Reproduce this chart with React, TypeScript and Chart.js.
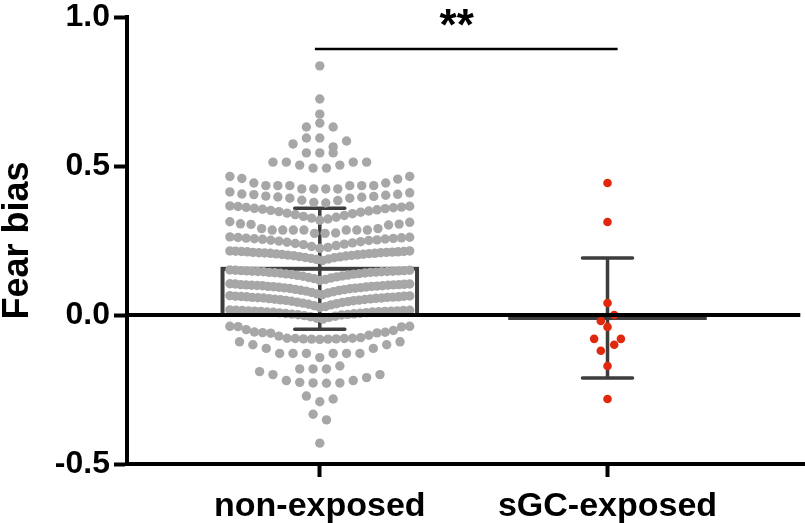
import { useEffect, useRef } from "react"
import { Chart, registerables } from "chart.js"

Chart.register(...registerables)

const categories = ["non-exposed", "sGC-exposed"]
const groupX = [1, 2]
const barMeans = [0.155, -0.01]
const barSD = [0.203, 0.201]
const yTicks = [-0.5, 0, 0.5, 1.0]
const sigLabel = "**"
const sigLevel = 0.893
const sigSpan = [0.983, 2.035]
const sigLabelX = 1.476

// each inner array is one horizontal row of the dot plot, written in the order the dots are placed (centre outwards)
const nonExposed: number[][] = [
  [0.836],
  [0.725],
  [0.674],
  [0.644, 0.631, 0.631],
  [0.594, 0.564, 0.594, 0.584, 0.574],
  [0.544, 0.544, 0.544],
  [0.493, 0.493, 0.503, 0.503, 0.513, 0.513, 0.513, 0.513],
  [0.423, 0.423, 0.423, 0.423, 0.434, 0.434, 0.434, 0.434, 0.434, 0.434, 0.443, 0.443, 0.456, 0.458, 0.465, 0.465],
  [0.376, 0.378, 0.384, 0.385, 0.392, 0.392, 0.395, 0.396, 0.398, 0.399, 0.402, 0.404, 0.405, 0.406, 0.41, 0.413],
  [0.318, 0.322, 0.325, 0.328, 0.331, 0.334, 0.337, 0.34, 0.342, 0.345, 0.347, 0.349, 0.351, 0.353, 0.355, 0.357, 0.358, 0.36, 0.361, 0.362, 0.364, 0.365, 0.366],
  [0.274, 0.274, 0.275, 0.285, 0.285, 0.285, 0.285, 0.285, 0.285, 0.285, 0.29, 0.29, 0.302, 0.304, 0.305, 0.306, 0.311, 0.313],
  [0.224, 0.227, 0.23, 0.233, 0.236, 0.238, 0.24, 0.242, 0.244, 0.246, 0.248, 0.25, 0.251, 0.252, 0.254, 0.255, 0.256, 0.257, 0.258, 0.259, 0.26, 0.261, 0.262],
  [0.183, 0.186, 0.188, 0.19, 0.192, 0.193, 0.195, 0.196, 0.198, 0.199, 0.2, 0.201, 0.202, 0.203, 0.204, 0.205, 0.206, 0.207, 0.207, 0.208, 0.209, 0.209, 0.21, 0.21, 0.211, 0.212, 0.212, 0.213, 0.213, 0.214, 0.215, 0.215],
  [0.116, 0.119, 0.122, 0.124, 0.126, 0.128, 0.13, 0.131, 0.133, 0.134, 0.136, 0.137, 0.138, 0.139, 0.14, 0.141, 0.142, 0.143, 0.143, 0.144, 0.145, 0.145, 0.146, 0.146, 0.147, 0.147, 0.148, 0.148, 0.149, 0.149, 0.15, 0.15, 0.151],
  [0.068, 0.071, 0.074, 0.076, 0.078, 0.08, 0.082, 0.083, 0.085, 0.086, 0.088, 0.089, 0.09, 0.091, 0.092, 0.093, 0.094, 0.095, 0.096, 0.096, 0.097, 0.098, 0.098, 0.099, 0.1, 0.1, 0.101, 0.101, 0.102, 0.102, 0.103, 0.104, 0.104, 0.105],
  [0.025, 0.028, 0.031, 0.034, 0.036, 0.038, 0.04, 0.042, 0.043, 0.045, 0.046, 0.048, 0.049, 0.05, 0.051, 0.052, 0.053, 0.054, 0.055, 0.056, 0.057, 0.057, 0.058, 0.059, 0.059, 0.06, 0.061, 0.061, 0.062, 0.063, 0.063, 0.064, 0.065],
  [-0.014, -0.011, -0.008, -0.006, -0.004, -0.002, 0, 0.001, 0.002, 0.003, 0.004, 0.005, 0.006, 0.007, 0.008, 0.009, 0.01, 0.01, 0.011, 0.012, 0.012, 0.013, 0.013, 0.014, 0.014, 0.015, 0.015, 0.016, 0.016, 0.017],
  [-0.082, -0.081, -0.081, -0.08, -0.08, -0.079, -0.079, -0.078, -0.078, -0.076, -0.071, -0.068, -0.061, -0.06, -0.059, -0.058, -0.057, -0.052, -0.049, -0.04, -0.039, -0.038, -0.038],
  [-0.143, -0.129, -0.129, -0.129, -0.129, -0.129, -0.129, -0.112, -0.112, -0.1, -0.1, -0.09, -0.09],
  [-0.181, -0.181, -0.171, -0.181],
  [-0.229, -0.228, -0.228, -0.226, -0.22, -0.22, -0.21, -0.2, -0.2, -0.19],
  [-0.291, -0.282, -0.272],
  [-0.352, -0.333],
  [-0.43],
]

const sgcExposed: number[][] = [
  [0.443],
  [0.312],
  [0.04],
  [0.0, -0.02],
  [-0.04, -0.08, -0.08],
  [-0.1, -0.12],
  [-0.171],
  [-0.282],
]

const dotStep = 0.0465
const rowSpan = 0.625

function swarm(rows: number[][], cx: number) {
  const pts: { x: number; y: number }[] = []
  rows.forEach((row) => {
    const n = row.length
    const s = n > 1 ? Math.min(dotStep, rowSpan / (n - 1)) : dotStep
    row.forEach((v, i) => {
      let slot
      if (n % 2 === 1) {
        slot = i === 0 ? 0 : (i % 2 === 1 ? 1 : -1) * Math.ceil(i / 2)
      } else {
        slot = (i % 2 === 0 ? 1 : -1) * (Math.floor(i / 2) + 0.5)
      }
      pts.push({ x: cx + slot * s, y: v })
    })
  })
  return pts
}

const font = "'Liberation Sans', Arial, Helvetica, sans-serif"
const barColor = "#3d3d3d"

const overlay = {
  id: "overlay",
  beforeDatasetsDraw(chart: any) {
    const { ctx, scales } = chart
    const x = scales.x
    const y = scales.y
    ctx.save()
    ctx.strokeStyle = barColor
    // bars
    ctx.lineWidth = 4
    ctx.lineJoin = "miter"
    groupX.forEach((gx, i) => {
      const l = x.getPixelForValue(gx - 0.338)
      const r = x.getPixelForValue(gx + 0.338)
      const t = y.getPixelForValue(barMeans[i])
      const b = y.getPixelForValue(0)
      ctx.strokeRect(l, Math.min(t, b), r - l, Math.abs(b - t))
    })
    // error bars (mean ± SD)
    ctx.lineWidth = 3.5
    ctx.lineCap = "round"
    groupX.forEach((gx, i) => {
      const cx = x.getPixelForValue(gx)
      const hi = y.getPixelForValue(barMeans[i] + barSD[i])
      const lo = y.getPixelForValue(barMeans[i] - barSD[i])
      const cw = x.getPixelForValue(gx + 0.087) - cx
      ctx.beginPath()
      ctx.moveTo(cx, hi)
      ctx.lineTo(cx, lo)
      ctx.moveTo(cx - cw, hi)
      ctx.lineTo(cx + cw, hi)
      ctx.moveTo(cx - cw, lo)
      ctx.lineTo(cx + cw, lo)
      ctx.stroke()
    })
    ctx.restore()
  },
  afterDatasetsDraw(chart: any) {
    const { ctx, scales, chartArea } = chart
    const x = scales.x
    const y = scales.y
    ctx.save()
    ctx.strokeStyle = "#000"
    ctx.lineWidth = 4
    // zero line
    const y0 = y.getPixelForValue(0)
    ctx.beginPath()
    ctx.moveTo(chartArea.left, y0)
    ctx.lineTo(chartArea.right, y0)
    ctx.stroke()
    // x axis runs on to the edge of the figure
    ctx.beginPath()
    ctx.moveTo(chartArea.right - 2, chartArea.bottom)
    ctx.lineTo(chart.width, chartArea.bottom)
    ctx.stroke()
    // significance bracket
    const ys = y.getPixelForValue(sigLevel)
    ctx.lineWidth = 2.5
    ctx.beginPath()
    ctx.moveTo(x.getPixelForValue(sigSpan[0]), ys)
    ctx.lineTo(x.getPixelForValue(sigSpan[1]), ys)
    ctx.stroke()
    ctx.fillStyle = "#000"
    ctx.font = `bold 44px ${font}`
    ctx.textAlign = "center"
    ctx.textBaseline = "alphabetic"
    ctx.fillText(sigLabel, x.getPixelForValue(sigLabelX), ys - 8.5)
    ctx.restore()
  },
}

export default function App() {
  const chartRef = useRef<HTMLCanvasElement>(null)
  const chartInstance = useRef<Chart | null>(null)

  useEffect(() => {
    document.body.style.margin = "0"
    if (!chartRef.current) return
    if (chartInstance.current) chartInstance.current.destroy()

    const ctx = chartRef.current.getContext("2d")
    if (!ctx) return

    chartInstance.current = new Chart(ctx, {
      type: "scatter",
      data: {
        datasets: [
          {
            label: categories[0],
            data: swarm(nonExposed, groupX[0]),
            backgroundColor: "#a7a7a7",
            borderWidth: 0,
            pointRadius: 4.7,
          },
          {
            label: categories[1],
            data: swarm(sgcExposed, groupX[1]),
            backgroundColor: "#e0290c",
            borderWidth: 0,
            pointRadius: 4.3,
          },
        ],
      },
      options: {
        animation: false,
        responsive: true,
        maintainAspectRatio: false,
        layout: { padding: { top: 17, right: 0, left: 0, bottom: 0 } },
        plugins: {
          legend: { display: false },
          tooltip: { enabled: false },
        },
        scales: {
          x: {
            type: "linear",
            min: 0.33,
            max: 2.67,
            afterBuildTicks: (scale: any) => {
              scale.ticks = groupX.map((v) => ({ value: v }))
            },
            afterFit: (scale: any) => {
              scale.height = 59
            },
            ticks: {
              callback: (_v: any, i: number) => categories[i],
              font: { family: font, size: 34, weight: "bold" },
              color: "#000",
              padding: 9,
              maxRotation: 0,
              autoSkip: false,
            },
            grid: {
              drawOnChartArea: false,
              drawTicks: true,
              tickLength: 13,
              tickWidth: 4,
              tickColor: "#000",
            },
            border: { display: true, width: 4, color: "#000" },
          },
          y: {
            min: -0.5,
            max: 1.0,
            afterBuildTicks: (scale: any) => {
              scale.ticks = yTicks.map((v) => ({ value: v }))
            },
            afterFit: (scale: any) => {
              scale.width = 127
            },
            ticks: {
              callback: (v: any) => Number(v).toFixed(1),
              font: { family: font, size: 32, weight: "bold", lineHeight: 0.8 },
              color: "#000",
              padding: 4,
            },
            grid: {
              drawOnChartArea: false,
              drawTicks: true,
              tickLength: 13,
              tickWidth: 4,
              tickColor: "#000",
            },
            border: { display: true, width: 4, color: "#000" },
            title: {
              display: true,
              text: "Fear bias",
              font: { family: font, size: 36, weight: "bold", lineHeight: 1.0 },
              color: "#000",
              padding: 0,
            },
          },
        },
      },
      plugins: [overlay],
    })

    return () => {
      if (chartInstance.current) {
        chartInstance.current.destroy()
        chartInstance.current = null
      }
    }
  }, [])

  return (
    <div style={{ width: 805, height: 523, position: "relative" }}>
      <canvas ref={chartRef}></canvas>
    </div>
  )
}
